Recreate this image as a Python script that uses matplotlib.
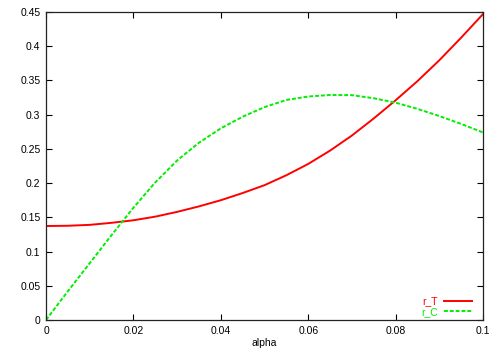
import matplotlib
matplotlib.use("Agg")
import matplotlib.pyplot as plt

# values
alpha = [0.0, 0.005, 0.01, 0.015, 0.02, 0.025, 0.03, 0.035, 0.04, 0.045, 0.05,
         0.055, 0.06, 0.065, 0.07, 0.075, 0.08, 0.085, 0.09, 0.095, 0.1]
r_T = [0.1373, 0.1377, 0.139, 0.142, 0.1457, 0.151, 0.158, 0.166, 0.175, 0.1855, 0.197,
       0.2115, 0.228, 0.2475, 0.2695, 0.2945, 0.321, 0.349, 0.3795, 0.4125, 0.447]
r_C = [0.0, 0.042, 0.083, 0.124, 0.164, 0.201, 0.233, 0.259, 0.280, 0.297, 0.311,
       0.3215, 0.3265, 0.3288, 0.3285, 0.324, 0.3175, 0.3085, 0.298, 0.2865, 0.274]

xticks = [0, 0.02, 0.04, 0.06, 0.08, 0.1]
xticklabels = ["0", "0.02", "0.04", "0.06", "0.08", "0.1"]
yticks = [0, 0.05, 0.1, 0.15, 0.2, 0.25, 0.3, 0.35, 0.4, 0.45]
yticklabels = ["0", "0.05", "0.1", "0.15", "0.2", "0.25", "0.3", "0.35", "0.4", "0.45"]

plt.rcParams['font.family'] = ['Liberation Sans', 'DejaVu Sans']
plt.rcParams['font.size'] = 7.5

fig = plt.figure(figsize=(5, 3.5), dpi=100)
ax = fig.add_axes([0.092, 0.0857, 0.874, 0.88])

ax.plot(alpha, r_T, color='#ff0000', lw=1.4, label='r_T')
ax.plot(alpha, r_C, color='#00ee00', lw=1.4, linestyle=(0, (2, 1)), label='r_C')

ax.set_xlim(0, 0.1)
ax.set_ylim(0, 0.45)
ax.set_xticks(xticks)
ax.set_xticklabels(xticklabels)
ax.set_yticks(yticks)
ax.set_yticklabels(yticklabels)
ax.tick_params(direction='in', length=4, width=0.8, top=True, right=True, pad=4)
for s in ax.spines.values():
    s.set_linewidth(0.9)
    s.set_color('#222222')
ax.set_xlabel('alpha', labelpad=2)

ax.legend(loc='lower right', bbox_to_anchor=(0.982, 0.0), frameon=False,
          markerfirst=False, labelcolor='linecolor',
          handlelength=2.7, handletextpad=0.6, labelspacing=0.05,
          borderaxespad=0.0, borderpad=0.3, fontsize=7.5)

fig.savefig('out.png', dpi=100)
